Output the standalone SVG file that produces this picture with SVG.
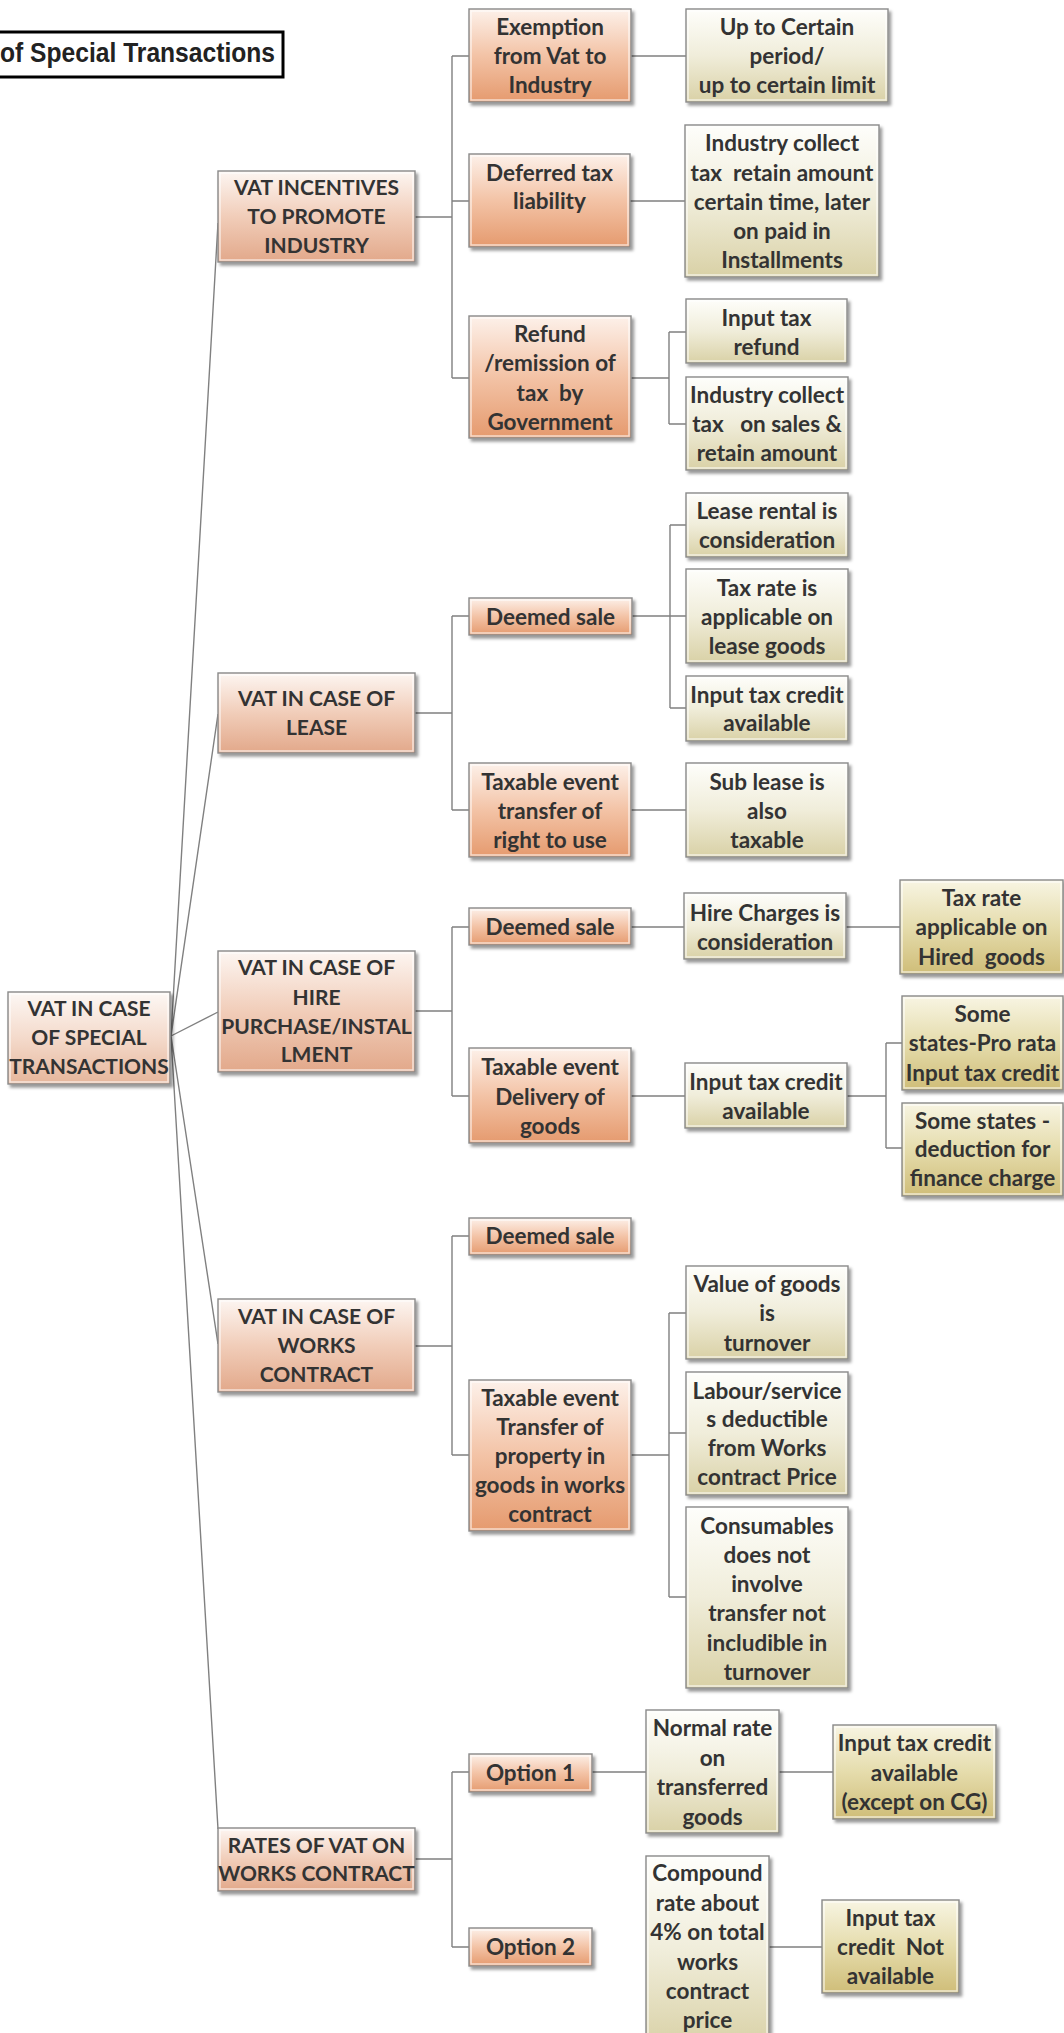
<svg xmlns="http://www.w3.org/2000/svg" width="1064" height="2033" viewBox="0 0 1064 2033">
<style>
.bx{stroke:#8a8a8a;stroke-width:1.4;filter:url(#sh)}
.hl{fill:none;stroke:#ffffff;stroke-opacity:0.65;stroke-width:1.5}
.r0{fill:url(#gRoot)}
.r1{fill:url(#gL1)}
.r2{fill:url(#gOr)}
.k1{fill:url(#gK1)}
.k2{fill:url(#gK2)}
text{font-family:Lato,"Open Sans","Liberation Sans",sans-serif;font-weight:bold;font-size:22.5px;fill:#333333;text-anchor:middle}
text.up{font-size:21px}
.cn{fill:none;stroke:#808080;stroke-width:1.4}
.title{font-family:"Liberation Sans Narrow","Liberation Sans",sans-serif;font-size:28px;text-anchor:start;fill:#222}
</style>
<defs>
<filter id="sh" x="-10%" y="-10%" width="125%" height="130%">
<feDropShadow dx="2.5" dy="3" stdDeviation="1.6" flood-color="#000" flood-opacity="0.4"/>
</filter>
<linearGradient id="gRoot" x1="0" y1="0" x2="0" y2="1"><stop offset="0" stop-color="#fdf8f5"/><stop offset="0.5" stop-color="#f4dacb"/><stop offset="1" stop-color="#e6b69b"/></linearGradient>
<linearGradient id="gL1" x1="0" y1="0" x2="0" y2="1"><stop offset="0" stop-color="#fdf6f2"/><stop offset="0.5" stop-color="#f1cdb9"/><stop offset="1" stop-color="#e2a88a"/></linearGradient>
<linearGradient id="gOr" x1="0" y1="0" x2="0" y2="1"><stop offset="0" stop-color="#fdf1ea"/><stop offset="0.5" stop-color="#f3c3a6"/><stop offset="1" stop-color="#e59a6e"/></linearGradient>
<linearGradient id="gK1" x1="0" y1="0" x2="0" y2="1"><stop offset="0" stop-color="#fefefb"/><stop offset="0.5" stop-color="#f0edda"/><stop offset="1" stop-color="#d9d1a6"/></linearGradient>
<linearGradient id="gK2" x1="0" y1="0" x2="0" y2="1"><stop offset="0" stop-color="#f8f5e3"/><stop offset="0.5" stop-color="#e5dcac"/><stop offset="1" stop-color="#cfbd78"/></linearGradient>
</defs>
<rect width="1064" height="2033" fill="#ffffff"/>

<g id="title">
<rect x="-6" y="32" width="289" height="45" fill="#ffffff" stroke="#000" stroke-width="3"/>
<text class="title" x="0" y="62" textLength="275" lengthAdjust="spacingAndGlyphs">of Special Transactions</text>
</g>

<g id="connectors">
<path class="cn" d="M171,1036 L218,223 M171,1036 L218,714 M171,1036 L218,1012 M171,1036 L218,1344 M171,1036 L218,1829"/>
<path class="cn" d="M415,217 H452 M452,56 V378 M452,56 H469 M452,201 H469 M452,378 H469 M631,56 H686 M630,201 H685 M631,378 H669 M669,332 V424 M669,332 H686 M669,424 H686"/>
<path class="cn" d="M415,713 H452 M452,616 V810 M452,616 H469 M452,810 H469 M632,616 H686 M670,525 V708 M670,525 H686 M670,708 H686 M631,810 H686"/>
<path class="cn" d="M415,1011 H452 M452,927 V1096 M452,927 H469 M452,1096 H469 M631,927 H684 M846,927 H900 M631,1096 H685 M847,1096 H886 M886,1043 V1148 M886,1043 H902 M886,1148 H902"/>
<path class="cn" d="M415,1346 H452 M452,1236 V1455 M452,1236 H469 M452,1455 H469 M631,1455 H669 M669,1313 V1597 M669,1313 H686 M669,1433 H686 M669,1597 H686"/>
<path class="cn" d="M415,1859 H452 M452,1772 V1947 M452,1772 H469 M452,1947 H469 M592,1772 H646 M779,1772 H833 M769,1947 H822"/>
</g>

<g id="root"><rect class="bx r0" x="8" y="992" width="162" height="92"/><rect class="hl" x="10" y="994" width="158" height="88"/>
<text class="up"><tspan x="89" y="1016">VAT IN CASE</tspan><tspan x="89" y="1045">OF SPECIAL</tspan><tspan x="89" y="1074">TRANSACTIONS</tspan></text></g>

<g id="incentives"><rect class="bx r1" x="218" y="171" width="197" height="91"/><rect class="hl" x="220" y="173" width="193" height="87"/>
<text class="up"><tspan x="316.5" y="195">VAT INCENTIVES</tspan><tspan x="316.5" y="224">TO PROMOTE</tspan><tspan x="316.5" y="253">INDUSTRY</tspan></text></g>

<g id="lease"><rect class="bx r1" x="218" y="673" width="197" height="80"/><rect class="hl" x="220" y="675" width="193" height="76"/>
<text class="up"><tspan x="316.5" y="706">VAT IN CASE OF</tspan><tspan x="316.5" y="735">LEASE</tspan></text></g>

<g id="hire"><rect class="bx r1" x="218" y="951" width="197" height="121"/><rect class="hl" x="220" y="953" width="193" height="117"/>
<text class="up"><tspan x="316.5" y="975">VAT IN CASE OF</tspan><tspan x="316.5" y="1005">HIRE</tspan><tspan x="316.5" y="1034">PURCHASE/INSTAL</tspan><tspan x="316.5" y="1062">LMENT</tspan></text></g>

<g id="works"><rect class="bx r1" x="218" y="1299" width="197" height="93"/><rect class="hl" x="220" y="1301" width="193" height="89"/>
<text class="up"><tspan x="316.5" y="1324">VAT IN CASE OF</tspan><tspan x="316.5" y="1353">WORKS</tspan><tspan x="316.5" y="1382">CONTRACT</tspan></text></g>

<g id="rates"><rect class="bx r1" x="218" y="1828" width="197" height="63"/><rect class="hl" x="220" y="1830" width="193" height="59"/>
<text class="up"><tspan x="316.5" y="1853">RATES OF VAT ON</tspan><tspan x="316.5" y="1881">WORKS CONTRACT</tspan></text></g>

<g id="exemption"><rect class="bx r2" x="469" y="9" width="162" height="93"/><rect class="hl" x="471" y="11" width="158" height="89"/>
<text><tspan x="550" y="35">Exemption</tspan><tspan x="550" y="64">from Vat to</tspan><tspan x="550" y="93">Industry</tspan></text></g>

<g id="deferred"><rect class="bx r2" x="469" y="154" width="161" height="93"/><rect class="hl" x="471" y="156" width="157" height="89"/>
<text><tspan x="549.5" y="181">Deferred tax</tspan><tspan x="549.5" y="209">liability</tspan></text></g>

<g id="refund"><rect class="bx r2" x="469" y="316" width="162" height="122"/><rect class="hl" x="471" y="318" width="158" height="118"/>
<text><tspan x="550" y="342">Refund</tspan><tspan x="550" y="371">/remission of</tspan><tspan x="550" y="401" xml:space="preserve">tax  by</tspan><tspan x="550" y="430">Government</tspan></text></g>

<g id="lease-deemed"><rect class="bx r2" x="469" y="598" width="163" height="37"/><rect class="hl" x="471" y="600" width="159" height="33"/>
<text><tspan x="550.5" y="625">Deemed sale</tspan></text></g>

<g id="lease-taxable"><rect class="bx r2" x="469" y="763" width="162" height="94"/><rect class="hl" x="471" y="765" width="158" height="90"/>
<text><tspan x="550" y="790">Taxable event</tspan><tspan x="550" y="819">transfer of</tspan><tspan x="550" y="848">right to use</tspan></text></g>

<g id="hire-deemed"><rect class="bx r2" x="469" y="908" width="162" height="37"/><rect class="hl" x="471" y="910" width="158" height="33"/>
<text><tspan x="550" y="935">Deemed sale</tspan></text></g>

<g id="hire-taxable"><rect class="bx r2" x="469" y="1048" width="162" height="95"/><rect class="hl" x="471" y="1050" width="158" height="91"/>
<text><tspan x="550" y="1075">Taxable event</tspan><tspan x="550" y="1105">Delivery of</tspan><tspan x="550" y="1134">goods</tspan></text></g>

<g id="works-deemed"><rect class="bx r2" x="469" y="1218" width="162" height="37"/><rect class="hl" x="471" y="1220" width="158" height="33"/>
<text><tspan x="550" y="1244">Deemed sale</tspan></text></g>

<g id="works-taxable"><rect class="bx r2" x="469" y="1380" width="162" height="151"/><rect class="hl" x="471" y="1382" width="158" height="147"/>
<text><tspan x="550" y="1406">Taxable event</tspan><tspan x="550" y="1435">Transfer of</tspan><tspan x="550" y="1464">property in</tspan><tspan x="550" y="1493">goods in works</tspan><tspan x="550" y="1522">contract</tspan></text></g>

<g id="option1"><rect class="bx r2" x="469" y="1754" width="123" height="38"/><rect class="hl" x="471" y="1756" width="119" height="34"/>
<text><tspan x="530.5" y="1781">Option 1</tspan></text></g>

<g id="option2"><rect class="bx r2" x="469" y="1928" width="123" height="38"/><rect class="hl" x="471" y="1930" width="119" height="34"/>
<text><tspan x="530.5" y="1955">Option 2</tspan></text></g>

<g id="upto"><rect class="bx k1" x="686" y="9" width="202" height="93"/><rect class="hl" x="688" y="11" width="198" height="89"/>
<text><tspan x="787" y="35">Up to Certain</tspan><tspan x="787" y="64">period/</tspan><tspan x="787" y="93">up to certain limit</tspan></text></g>

<g id="industry-retain"><rect class="bx k1" x="685" y="125" width="194" height="152"/><rect class="hl" x="687" y="127" width="190" height="148"/>
<text><tspan x="782" y="151">Industry collect</tspan><tspan x="782" y="181" xml:space="preserve">tax  retain amount</tspan><tspan x="782" y="210">certain time, later</tspan><tspan x="782" y="239">on paid in</tspan><tspan x="782" y="268">Installments</tspan></text></g>

<g id="input-refund"><rect class="bx k1" x="686" y="299" width="161" height="64"/><rect class="hl" x="688" y="301" width="157" height="60"/>
<text><tspan x="766.5" y="326">Input tax</tspan><tspan x="766.5" y="355">refund</tspan></text></g>

<g id="industry-sales"><rect class="bx k1" x="686" y="377" width="162" height="93"/><rect class="hl" x="688" y="379" width="158" height="89"/>
<text><tspan x="767" y="403">Industry collect</tspan><tspan x="767" y="432" xml:space="preserve">tax   on sales &amp;</tspan><tspan x="767" y="461">retain amount</tspan></text></g>

<g id="lease-rental"><rect class="bx k1" x="686" y="493" width="162" height="64"/><rect class="hl" x="688" y="495" width="158" height="60"/>
<text><tspan x="767" y="519">Lease rental is</tspan><tspan x="767" y="548">consideration</tspan></text></g>

<g id="lease-taxrate"><rect class="bx k1" x="686" y="569" width="162" height="94"/><rect class="hl" x="688" y="571" width="158" height="90"/>
<text><tspan x="767" y="596">Tax rate is</tspan><tspan x="767" y="625">applicable on</tspan><tspan x="767" y="654">lease goods</tspan></text></g>

<g id="lease-itc"><rect class="bx k1" x="686" y="676" width="162" height="65"/><rect class="hl" x="688" y="678" width="158" height="61"/>
<text><tspan x="767" y="703">Input tax credit</tspan><tspan x="767" y="731">available</tspan></text></g>

<g id="sublease"><rect class="bx k1" x="686" y="763" width="162" height="94"/><rect class="hl" x="688" y="765" width="158" height="90"/>
<text><tspan x="767" y="790">Sub lease is</tspan><tspan x="767" y="819">also</tspan><tspan x="767" y="848">taxable</tspan></text></g>

<g id="hire-charges"><rect class="bx k1" x="684" y="893" width="162" height="66"/><rect class="hl" x="686" y="895" width="158" height="62"/>
<text><tspan x="765" y="921">Hire Charges is</tspan><tspan x="765" y="950">consideration</tspan></text></g>

<g id="hire-itc"><rect class="bx k1" x="685" y="1063" width="162" height="65"/><rect class="hl" x="687" y="1065" width="158" height="61"/>
<text><tspan x="766" y="1090">Input tax credit</tspan><tspan x="766" y="1119">available</tspan></text></g>

<g id="value-goods"><rect class="bx k1" x="686" y="1266" width="162" height="93"/><rect class="hl" x="688" y="1268" width="158" height="89"/>
<text><tspan x="767" y="1292">Value of goods</tspan><tspan x="767" y="1321">is</tspan><tspan x="767" y="1351">turnover</tspan></text></g>

<g id="labour"><rect class="bx k1" x="686" y="1372" width="162" height="123"/><rect class="hl" x="688" y="1374" width="158" height="119"/>
<text><tspan x="767" y="1399">Labour/service</tspan><tspan x="767" y="1427">s deductible</tspan><tspan x="767" y="1456">from Works</tspan><tspan x="767" y="1485">contract Price</tspan></text></g>

<g id="consumables"><rect class="bx k1" x="686" y="1507" width="162" height="181"/><rect class="hl" x="688" y="1509" width="158" height="177"/>
<text><tspan x="767" y="1534">Consumables</tspan><tspan x="767" y="1563">does not</tspan><tspan x="767" y="1592">involve</tspan><tspan x="767" y="1621">transfer not</tspan><tspan x="767" y="1651">includible in</tspan><tspan x="767" y="1680">turnover</tspan></text></g>

<g id="normal-rate"><rect class="bx k1" x="646" y="1710" width="133" height="123"/><rect class="hl" x="648" y="1712" width="129" height="119"/>
<text><tspan x="712.5" y="1736">Normal rate</tspan><tspan x="712.5" y="1766">on</tspan><tspan x="712.5" y="1795">transferred</tspan><tspan x="712.5" y="1825">goods</tspan></text></g>

<g id="compound-rate"><rect class="bx k1" x="646" y="1856" width="123" height="192"/><rect class="hl" x="648" y="1858" width="119" height="188"/>
<text><tspan x="707.5" y="1881">Compound</tspan><tspan x="707.5" y="1911">rate about</tspan><tspan x="707.5" y="1940">4% on total</tspan><tspan x="707.5" y="1970">works</tspan><tspan x="707.5" y="1999">contract</tspan><tspan x="707.5" y="2028">price</tspan></text></g>

<g id="taxrate-hired"><rect class="bx k2" x="900" y="880" width="163" height="94"/><rect class="hl" x="902" y="882" width="159" height="90"/>
<text><tspan x="981.5" y="906">Tax rate</tspan><tspan x="981.5" y="935">applicable on</tspan><tspan x="981.5" y="965" xml:space="preserve">Hired  goods</tspan></text></g>

<g id="prorata"><rect class="bx k2" x="902" y="996" width="161" height="94"/><rect class="hl" x="904" y="998" width="157" height="90"/>
<text><tspan x="982.5" y="1022">Some</tspan><tspan x="982.5" y="1051">states-Pro rata</tspan><tspan x="982.5" y="1081">Input tax credit</tspan></text></g>

<g id="deduction"><rect class="bx k2" x="902" y="1103" width="161" height="93"/><rect class="hl" x="904" y="1105" width="157" height="89"/>
<text><tspan x="982.5" y="1129">Some states -</tspan><tspan x="982.5" y="1157">deduction for</tspan><tspan x="982.5" y="1186">finance charge</tspan></text></g>

<g id="itc-except"><rect class="bx k2" x="833" y="1725" width="163" height="94"/><rect class="hl" x="835" y="1727" width="159" height="90"/>
<text><tspan x="914.5" y="1751">Input tax credit</tspan><tspan x="914.5" y="1781">available</tspan><tspan x="914.5" y="1810">(except on CG)</tspan></text></g>

<g id="itc-not"><rect class="bx k2" x="822" y="1900" width="137" height="93"/><rect class="hl" x="824" y="1902" width="133" height="89"/>
<text><tspan x="890.5" y="1926">Input tax</tspan><tspan x="890.5" y="1955" xml:space="preserve">credit  Not</tspan><tspan x="890.5" y="1984">available</tspan></text></g>
</svg>
